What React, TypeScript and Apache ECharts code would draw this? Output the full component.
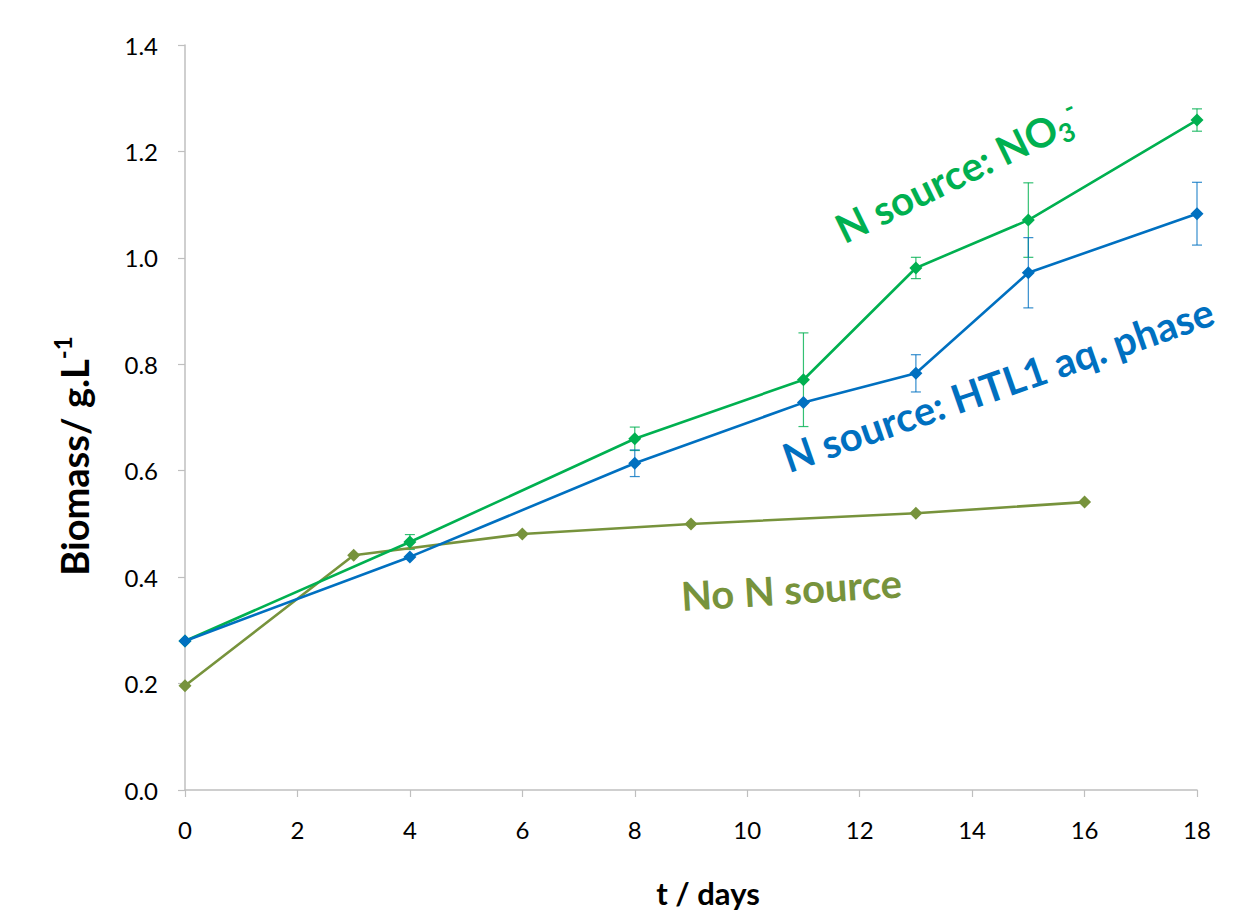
import React, { useEffect, useRef } from "react";
import * as echarts from "echarts";

// ---- data ----
const nitrateDays = [0, 4, 8, 11, 13, 15, 18];
const nitrateBiomass = [0.28, 0.466, 0.66, 0.771, 0.981, 1.071, 1.259];
const nitrateErr = [0, 0.014, 0.022, 0.088, 0.02, 0.07, 0.021];

const htlDays = [0, 4, 8, 11, 13, 15, 18];
const htlBiomass = [0.28, 0.438, 0.614, 0.728, 0.783, 0.972, 1.083];
const htlErr = [0, 0, 0.025, 0, 0.035, 0.066, 0.059];

const noNDays = [0, 3, 6, 9, 13, 16];
const noNBiomass = [0.196, 0.441, 0.481, 0.5, 0.52, 0.541];

const xTicks = { min: 0, max: 18, interval: 2 };
const yTicks = { min: 0, max: 1.4, interval: 0.2 };

const GREEN = "#00b050";
const BLUE = "#0070c0";
const OLIVE = "#77933c";
const FONT = "Lato, 'Open Sans', sans-serif";

function lineSeries(name: string, xs: number[], ys: number[], color: string, z: number) {
  return {
    name,
    type: "line",
    data: xs.map((x, i) => [x, ys[i]]),
    symbol: "diamond",
    symbolSize: 13,
    showSymbol: true,
    lineStyle: { color, width: 2.6 },
    itemStyle: { color },
    z,
  };
}

function errSeries(name: string, xs: number[], ys: number[], errs: number[], color: string) {
  const data = xs
    .map((x, i) => [x, ys[i] - errs[i], ys[i] + errs[i], errs[i]])
    .filter((d) => d[3] > 0);
  return {
    name: name + " error",
    type: "custom",
    data,
    encode: { x: 0, y: [1, 2] },
    z: 1,
    renderItem: (params: any, api: any) => {
      const x = api.value(0);
      const lo = api.coord([x, api.value(1)]);
      const hi = api.coord([x, api.value(2)]);
      const w = 5;
      const style = { stroke: color, lineWidth: 1.2, opacity: 0.8 };
      return {
        type: "group",
        children: [
          { type: "line", shape: { x1: lo[0], y1: lo[1], x2: hi[0], y2: hi[1] }, style },
          { type: "line", shape: { x1: hi[0] - w, y1: hi[1], x2: hi[0] + w, y2: hi[1] }, style },
          { type: "line", shape: { x1: lo[0] - w, y1: lo[1], x2: lo[0] + w, y2: lo[1] }, style },
        ],
      };
    },
  };
}

export default function App() {
  const ref = useRef<HTMLDivElement>(null);

  useEffect(() => {
    if (!ref.current) return;
    document.body.style.margin = "0";
    document.body.style.overflow = "hidden";
    const chart = echarts.init(ref.current, undefined, {
      renderer: "svg",
      width: 1260,
      height: 913,
    });
    const axisGray = "#bfbfbf";
    chart.setOption({
      animation: false,
      backgroundColor: "#ffffff",
      grid: { left: 185, top: 45, width: 1012, height: 764, containLabel: false },
      xAxis: {
        type: "value",
        min: xTicks.min,
        max: xTicks.max,
        interval: xTicks.interval,
        name: "t / days",
        nameLocation: "middle",
        nameGap: 87,
        nameTextStyle: {
          fontFamily: FONT,
          fontWeight: "bold",
          fontSize: 31,
          color: "#000",
          padding: [0, 0, 0, 34],
        },
        axisLine: { show: true, lineStyle: { color: axisGray, width: 1.5 } },
        axisTick: { show: true, inside: false, length: 7, lineStyle: { color: axisGray, width: 1.2 } },
        axisLabel: { fontFamily: FONT, fontSize: 24, color: "#000", margin: 27 },
        splitLine: { show: false },
      },
      yAxis: {
        type: "value",
        min: yTicks.min,
        max: yTicks.max,
        interval: yTicks.interval,
        axisLine: { show: true, lineStyle: { color: axisGray, width: 1.5 } },
        axisTick: { show: true, inside: false, length: 7, lineStyle: { color: axisGray, width: 1.2 } },
        axisLabel: {
          fontFamily: FONT,
          fontSize: 24,
          color: "#000",
          margin: 27,
          formatter: (v: number) => v.toFixed(1),
        },
        splitLine: { show: false },
      },
      graphic: [
        {
          type: "text",
          x: 74,
          y: 456,
          rotation: Math.PI / 2,
          style: {
            text: "{m|Biomass/ g.L}{p|-1}",
            align: "center",
            verticalAlign: "middle",
            rich: {
              m: { fontFamily: FONT, fontWeight: "bold", fontSize: 38, fill: "#000", lineHeight: 48 },
              p: { fontFamily: FONT, fontWeight: "bold", fontSize: 24, fill: "#000", lineHeight: 24, verticalAlign: "top" },
            },
          },
        },
        {
          type: "text",
          x: 838,
          y: 231,
          rotation: (26 * Math.PI) / 180,
          style: {
            text: "{m|N source: NO}{s|3}{p|-}",
            align: "left",
            verticalAlign: "middle",
            rich: {
              m: { fontFamily: FONT, fontWeight: "bold", fontSize: 40, fill: GREEN, lineHeight: 48 },
              s: { fontFamily: FONT, fontWeight: "bold", fontSize: 26, fill: GREEN, lineHeight: 26, verticalAlign: "bottom" },
              p: { fontFamily: FONT, fontWeight: "bold", fontSize: 26, fill: GREEN, lineHeight: 26, verticalAlign: "top" },
            },
          },
        },
        {
          type: "text",
          x: 784,
          y: 459,
          rotation: (19.2 * Math.PI) / 180,
          style: {
            text: "N source: HTL1 aq. phase",
            align: "left",
            verticalAlign: "middle",
            fontFamily: FONT,
            fontWeight: "bold",
            fontSize: 40,
            fill: BLUE,
          },
        },
        {
          type: "text",
          x: 681,
          y: 596,
          rotation: (3.5 * Math.PI) / 180,
          style: {
            text: "No N source",
            align: "left",
            verticalAlign: "middle",
            fontFamily: FONT,
            fontWeight: "bold",
            fontSize: 40,
            fill: OLIVE,
          },
        },
      ],
      series: [
        errSeries("N source: NO3-", nitrateDays, nitrateBiomass, nitrateErr, GREEN),
        errSeries("N source: HTL1 aq. phase", htlDays, htlBiomass, htlErr, BLUE),
        lineSeries("No N source", noNDays, noNBiomass, OLIVE, 2),
        lineSeries("N source: NO3-", nitrateDays, nitrateBiomass, GREEN, 3),
        lineSeries("N source: HTL1 aq. phase", htlDays, htlBiomass, BLUE, 4),
      ],
    });
    return () => chart.dispose();
  }, []);

  return (
    <div
      ref={ref}
      style={{ width: 1260, height: 913, overflow: "hidden" }}
    />
  );
}
